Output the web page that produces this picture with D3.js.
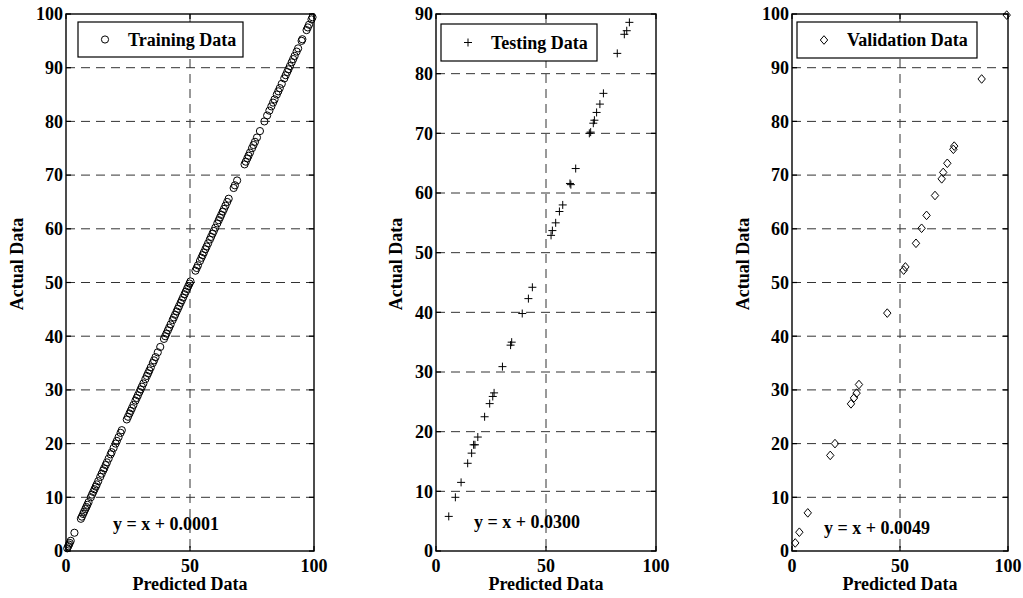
<!DOCTYPE html>
<html>
<head>
<meta charset="utf-8">
<style>
body { margin: 0; background: #fff; }
svg { display: block; }
text { font-family: "Liberation Serif", "Times New Roman", serif; font-weight: bold; fill: #000; }
.grid { stroke: #333; stroke-width: 1; stroke-dasharray: 9,6; fill: none; }
.frame { fill: none; stroke: #000; stroke-width: 1.4; }
.tick { stroke: #000; stroke-width: 1.2; }
.mark { fill: none; stroke: #000; stroke-width: 1; }
</style>
</head>
<body>
<svg width="1023" height="598"></svg>
<script src="https://d3js.org/d3.v7.min.js"></script>
<script>

// training set: predicted vs actual (fit y = x + 0.0001)
var trainPredicted = [0.5,0.9,1.2,1.5,1.9,3.4,6,6.4,6.9,7.3,7.8,8.2,8.6,9.1,10,10.5,11,11.5,12,12.4,13,13.8,14.4,15,15.4,16,16.5,17.2,18,18.4,19.2,20,20.5,21.2,22,22.5,24.5,25,25.6,26.1,26.6,27.2,28,28.5,29,29.6,30.1,30.6,31.2,32,32.6,33.1,33.6,34.2,35,35.5,36.1,37,38,39.5,40,40.5,41.1,41.6,42.2,43,43.5,44,44.6,45.1,45.6,46.2,46.7,47.2,47.8,48.3,48.8,49.3,49.8,50.2,52.2,52.7,53.2,54,54.6,55.1,55.6,56.2,56.7,57.3,58,58.5,59.1,59.6,60.2,61,61.6,62.1,62.6,63.2,63.7,64.3,65,65.6,67.6,68.1,69,72,72.5,73.1,73.6,74.2,75,75.6,76.2,77,78.2,80,81.1,82,82.8,83.5,84.1,85,85.6,86.2,87,88,88.6,89.2,89.7,90.3,91,91.6,92.2,93,93.6,95,95.3,97,97.5,98,99,99.4];
var trainActual = trainPredicted.slice();

// testing set
var testPredicted = [5.8,8.8,11.4,14.4,16.2,17.7,17.1,19.0,22.1,24.4,25.8,26.4,30.2,33.9,34.4,39.2,42.0,43.8,52.3,52.9,54.4,56.1,57.6,60.9,61.3,63.5,69.7,70.3,71.5,72.0,73.0,74.5,76.1,82.4,85.6,86.7,87.9];
var testActual    = [5.8,9.0,11.5,14.7,16.4,17.8,17.8,19.1,22.5,24.7,25.9,26.5,30.9,34.5,35.0,39.8,42.3,44.2,52.9,53.7,55.0,56.9,58.0,61.6,61.4,64.1,70.0,70.2,71.7,72.2,73.5,74.9,76.7,83.4,86.6,87.2,88.6];

// validation set
var valPredicted = [1.5,3.4,7.3,17.7,19.9,27.3,28.7,29.9,31.0,44.1,51.7,52.5,57.4,60.0,62.3,66.2,69.3,70.0,71.9,74.7,75.1,87.8,99.4];
var valActual    = [1.5,3.5,7.1,17.8,20.0,27.4,28.5,29.4,31.0,44.3,52.3,52.9,57.3,60.1,62.5,66.2,69.3,70.5,72.2,74.8,75.4,87.9,99.8];

var legendNames = ["Training Data", "Testing Data", "Validation Data"];
var equations = ["y = x + 0.0001", "y = x + 0.0300", "y = x + 0.0049"];
var eqPos = [[19, 4], [17.3, 3.9], [14.8, 3.2]];
var yMax = [100, 90, 100];
var xTicks = [0, 50, 100];

var svg = d3.select("svg");

var panels = [
  {left: 66, right: 314, top: 14, bottom: 551, ylabX: 17, legend: [78, 22, 165, 35], shape: "circle",
   px: trainPredicted, py: trainActual},
  {left: 436, right: 656, top: 14, bottom: 551, ylabX: 396, legend: [441, 24, 156, 37], shape: "plus",
   px: testPredicted, py: testActual},
  {left: 792, right: 1008, top: 14, bottom: 551, ylabX: 743, legend: [797, 22, 180, 36], shape: "diamond",
   px: valPredicted, py: valActual}
];

function marker(sel, shape) {
  if (shape == "circle") {
    sel.append("circle").attr("class", "mark").attr("r", 3.6);
  } else if (shape == "plus") {
    sel.append("path").attr("class", "mark").attr("d", "M-4,0H4M0,-4V4");
  } else {
    sel.append("path").attr("class", "mark").attr("d", "M0,-4.3L3.7,0L0,4.3L-3.7,0Z");
  }
}

panels.forEach(function(p, i) {
  var x = d3.scaleLinear().domain([0, 100]).range([p.left, p.right]);
  var y = d3.scaleLinear().domain([0, yMax[i]]).range([p.bottom, p.top]);
  var yTicks = d3.range(0, yMax[i] + 1, 10);
  var g = svg.append("g");

  // grid
  g.selectAll(".hgrid").data(yTicks.slice(1, -1)).enter().append("line")
    .attr("class", "grid")
    .attr("x1", p.left).attr("x2", p.right)
    .attr("y1", y).attr("y2", y);
  g.append("line").attr("class", "grid")
    .attr("x1", x(50)).attr("x2", x(50))
    .attr("y1", p.top).attr("y2", p.bottom);

  // ticks (inside, both sides)
  yTicks.forEach(function(t) {
    g.append("line").attr("class", "tick").attr("x1", p.left).attr("x2", p.left + 5).attr("y1", y(t)).attr("y2", y(t));
    g.append("line").attr("class", "tick").attr("x1", p.right).attr("x2", p.right - 5).attr("y1", y(t)).attr("y2", y(t));
  });
  xTicks.forEach(function(t) {
    g.append("line").attr("class", "tick").attr("x1", x(t)).attr("x2", x(t)).attr("y1", p.bottom).attr("y2", p.bottom - 5);
    g.append("line").attr("class", "tick").attr("x1", x(t)).attr("x2", x(t)).attr("y1", p.top).attr("y2", p.top + 5);
  });

  // points
  var pts = g.selectAll(".pt").data(p.px).enter().append("g")
    .attr("transform", function(d, j) { return "translate(" + x(d) + "," + y(p.py[j]) + ")"; });
  pts.each(function() { marker(d3.select(this), p.shape); });

  g.append("rect").attr("class", "frame")
    .attr("x", p.left).attr("y", p.top)
    .attr("width", p.right - p.left).attr("height", p.bottom - p.top);

  // tick labels
  g.selectAll(".yl").data(yTicks).enter().append("text")
    .attr("x", p.left - 3).attr("y", y)
    .attr("dy", "0.35em")
    .attr("text-anchor", "end")
    .style("font-size", "18px")
    .text(function(d) { return d; });
  g.selectAll(".xl").data(xTicks).enter().append("text")
    .attr("x", x).attr("y", p.bottom + 21)
    .attr("text-anchor", "middle")
    .style("font-size", "18px")
    .text(function(d) { return d; });

  g.append("text")
    .attr("x", (p.left + p.right) / 2).attr("y", p.bottom + 39)
    .attr("text-anchor", "middle")
    .style("font-size", "18px")
    .text("Predicted Data");
  g.append("text")
    .attr("transform", "translate(" + p.ylabX + "," + 264 + ") rotate(-90)")
    .attr("dy", "0.35em")
    .attr("text-anchor", "middle")
    .style("font-size", "18px")
    .text("Actual Data");

  // equation
  g.append("text")
    .attr("x", x(eqPos[i][0])).attr("y", y(eqPos[i][1]))
    .style("font-size", "18px")
    .text(equations[i]);

  // legend
  var L = p.legend;
  var lg = g.append("g");
  lg.append("rect").attr("x", L[0]).attr("y", L[1]).attr("width", L[2]).attr("height", L[3])
    .attr("fill", "#fff").attr("stroke", "#000").attr("stroke-width", 1.2);
  var lm = lg.append("g").attr("transform", "translate(" + (L[0] + 27) + "," + (L[1] + L[3] / 2) + ")");
  marker(lm, p.shape);
  lg.append("text").attr("x", L[0] + 50).attr("y", L[1] + L[3] / 2)
    .attr("dy", "0.35em")
    .style("font-size", "18px")
    .text(legendNames[i]);
});

</script>
</body>
</html>
